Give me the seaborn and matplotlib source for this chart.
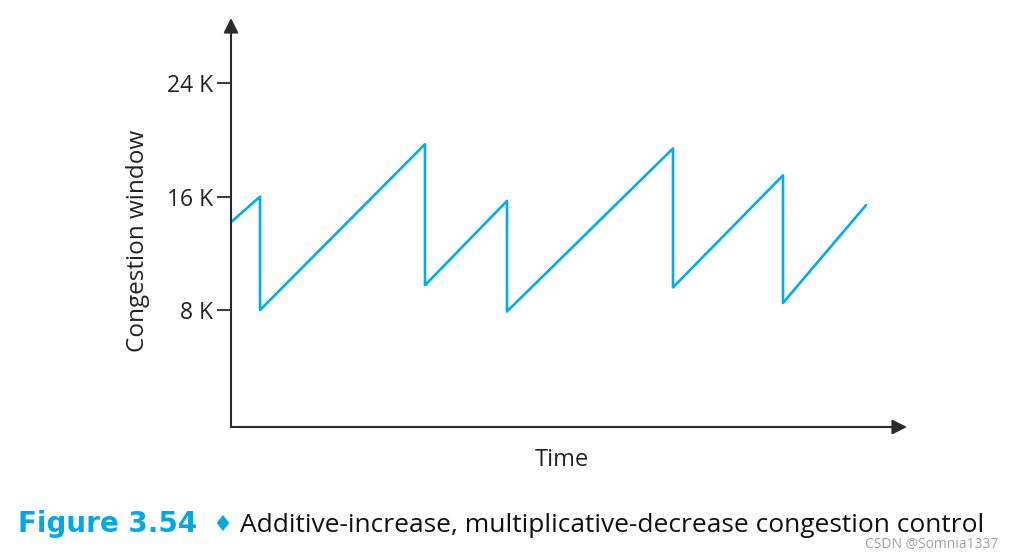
import pandas as pd
import seaborn as sns
import matplotlib.pyplot as plt

# sawtooth (time in arbitrary units, window in K)
time = [0, 29, 29, 194, 194, 276, 276, 442, 442, 552, 552, 635]
cwnd = [14.2, 16.0, 8.0, 19.7, 9.75, 15.7, 7.9, 19.4, 9.6, 17.5, 8.5, 15.4]
ytick_vals = [8, 16, 24]
ytick_labels = ['8 K', '16 K', '24 K']

df = pd.DataFrame({'Time': time, 'Congestion window': cwnd})

sns.set_style('white')
plt.rcParams['font.family'] = ['Open Sans', 'DejaVu Sans']

fig = plt.figure(figsize=(10.13, 5.56), dpi=100)
ax = fig.add_axes([231 / 1013, 129 / 556, 676 / 1013, 409 / 556])

sns.lineplot(data=df, x='Time', y='Congestion window', sort=False,
             estimator=None, color='#00AEEF', linewidth=1.9, ax=ax)

ax.set_xlim(0, 676)
ax.set_ylim(-0.25, 28.6)
for s in ax.spines.values():
    s.set_visible(False)

axis_col = '#2b2b2b'
ax.annotate('', xy=(1, 0), xytext=(0, 0), xycoords='axes fraction',
            arrowprops=dict(arrowstyle='-|>', color=axis_col, lw=1.5,
                            mutation_scale=22, shrinkA=0, shrinkB=0))
ax.annotate('', xy=(0, 1), xytext=(0, 0), xycoords='axes fraction',
            arrowprops=dict(arrowstyle='-|>', color=axis_col, lw=1.5,
                            mutation_scale=22, shrinkA=0, shrinkB=0))

ax.set_xticks([])
ax.set_yticks(ytick_vals)
ax.set_yticklabels(ytick_labels)
ax.tick_params(axis='y', left=True, direction='out', length=10, width=1.3,
               color=axis_col, labelsize=16.5, labelcolor='#222', pad=3)

ax.set_xlabel('Time', fontsize=17, color='#222')
ax.set_ylabel('Congestion window', fontsize=17.5, color='#222')
ax.xaxis.set_label_coords(0.49, -0.052)
ax.yaxis.set_label_coords(-0.12, 0.455)

# caption
cap_y = 24 / 556
fig.text(18 / 1013, cap_y, 'Figure 3.54', fontsize=20, fontweight='bold',
         color='#00A9E6', va='baseline', family=['DejaVu Sans'])
fig.text(212 / 1013, cap_y + 0.002, '\u2666', fontsize=16, color='#00A9E6',
         va='baseline', family=['DejaVu Sans'])
fig.text(240 / 1013, cap_y,
         'Additive-increase, multiplicative-decrease congestion control',
         fontsize=19, color='#111', va='baseline')
fig.text(998 / 1013, 8 / 556, 'CSDN @Somnia1337', fontsize=10,
         color='#a0a0a0', ha='right', va='baseline')

plt.savefig('out.png', dpi=100)
